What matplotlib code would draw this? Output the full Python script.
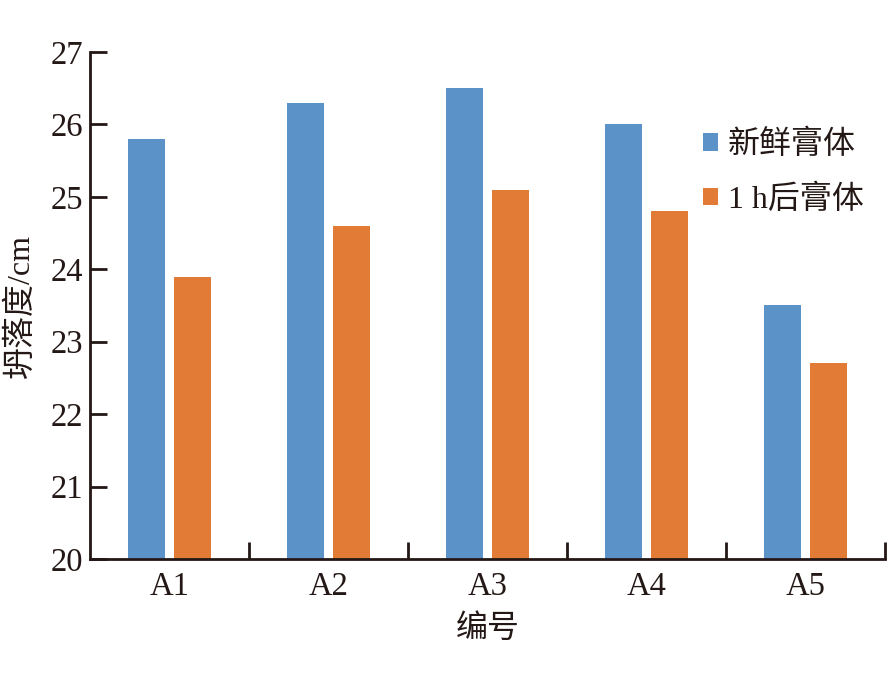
import matplotlib
matplotlib.use("Agg")
import matplotlib.pyplot as plt
import numpy as np

plt.rcParams['font.family'] = ['Liberation Serif', 'Noto Sans CJK SC', 'DejaVu Sans']

categories = ["A1", "A2", "A3", "A4", "A5"]
fresh = [25.8, 26.3, 26.5, 26.0, 23.5]
after_1h = [23.9, 24.6, 25.1, 24.8, 22.7]
series_labels = ["新鲜膏体", "1 h后膏体"]
yticks = [20, 21, 22, 23, 24, 25, 26, 27]

blue = "#5B93C8"
orange = "#E27B35"
ink = "#231815"

fig = plt.figure(figsize=(8.88, 6.78), dpi=100)
ax = fig.add_axes([90/888, (678-559)/678, (885-90)/888, (559-52)/678])

x = np.arange(len(categories))
w = 0.23
off = 0.143
ax.bar(x - off, fresh, width=w, color=blue, label=series_labels[0])
ax.bar(x + off, after_1h, width=w, color=orange, label=series_labels[1])

ax.set_xlim(-0.5, len(categories) - 0.5)
ax.set_ylim(20, 27)
ax.set_yticks(yticks)
ax.set_yticklabels([str(t) for t in yticks], fontsize=23.5)
ax.set_xticks(x)
ax.set_xticklabels(categories, fontsize=23.5)
ax.tick_params(axis='x', which='major', length=0, pad=9)
ax.set_xticks(np.arange(len(categories)) + 0.5, minor=True)
ax.tick_params(axis='x', which='minor', direction='in', length=12, width=2, color=ink)
ax.tick_params(axis='y', direction='in', length=12, width=2, color=ink, pad=5, labelcolor=ink)
ax.tick_params(axis='x', labelcolor=ink)

for s in ['top', 'right']:
    ax.spines[s].set_visible(False)
for s in ['left', 'bottom']:
    ax.spines[s].set_linewidth(2)
    ax.spines[s].set_color(ink)

ax.set_ylabel("坍落度/cm", fontsize=23, color=ink)
ax.yaxis.set_label_coords(-0.068, 0.5)
ax.set_xlabel("编号", fontsize=23, color=ink)
ax.xaxis.set_label_coords(0.5, -0.108)

leg = ax.legend(loc='upper left', bbox_to_anchor=(703/888, 1 - 130/678), bbox_transform=fig.transFigure,
                frameon=False, fontsize=23, handlelength=0.47, handleheight=0.47,
                handletextpad=0.3, labelspacing=0.75, borderaxespad=0, borderpad=0)
for t in leg.get_texts():
    t.set_color(ink)

fig.savefig("out.png", dpi=100)
